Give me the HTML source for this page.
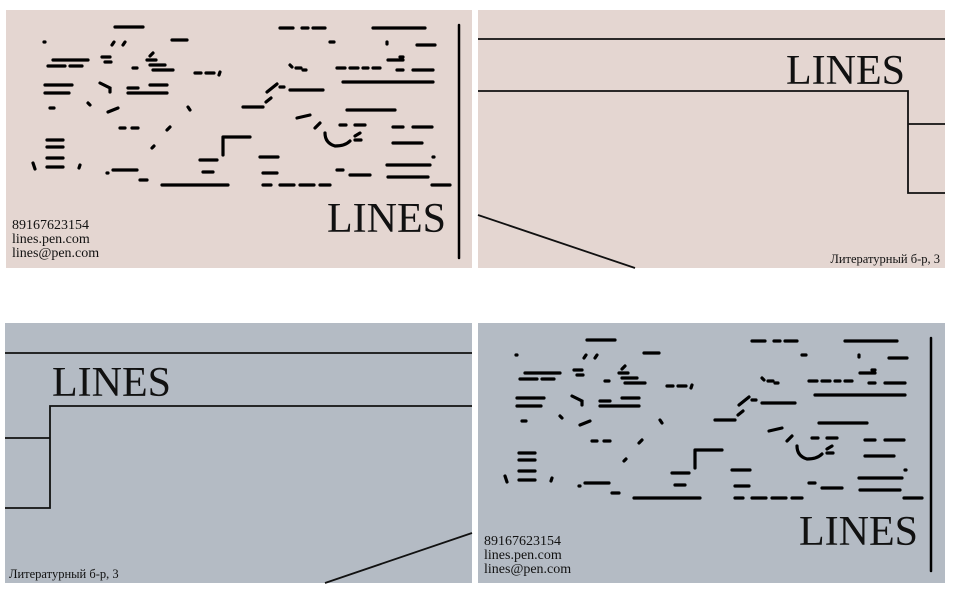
<!DOCTYPE html>
<html><head><meta charset="utf-8"><style>
html,body{margin:0;padding:0;background:#fff;width:954px;height:592px;overflow:hidden}
svg{display:block}
text{font-family:"Liberation Serif",serif;fill:#111}
</style></head><body>
<svg width="954" height="592" viewBox="0 0 954 592" xmlns="http://www.w3.org/2000/svg">
<rect x="6" y="10" width="466" height="258" fill="#e4d6d1"/>
<rect x="478" y="10" width="467" height="258" fill="#e4d6d1"/>
<rect x="5" y="323" width="467" height="260" fill="#b4bbc4"/>
<rect x="478" y="323" width="467" height="260" fill="#b4bbc4"/>

<defs>
<g id="dash" stroke="#000" stroke-width="3.2" stroke-linecap="round" fill="none">
<path d="M115 27h28 M280 28h13 M302 28h6 M313 28h12 M373 28h52 M44 42h1 M172 40h15 M112 45l2-3 M123 45l2-3 M330 42h4 M387 42v2 M417 45h18
M53 60h35 M48 66h17 M70 66h12 M102 57h8 M105 62h6 M147 60h9 M150 56l3-3 M150 65h15 M133 68h4 M153 70h20 M195 73h6 M206 73h8 M219 75l1-3
M290 65l2 2 M296 68h5 M303 70h3 M337 68h8 M350 68h8 M363 68h5 M373 68h7 M388 60h15 M397 70h6 M413 70h20 M400 57h3
M45 85h27 M45 93h24 M100 83l10 5v4 M128 93h39 M150 85h17 M128 88h10 M290 90h33 M267 92l10 -8 M280 87h4
M343 82h90 M50 108h4 M88 103l2 2 M108 112l10 -4 M188 107l2 3 M243 107h20 M266 102l5 -4 M297 118l13 -3
M347 110h48 M315 128l5 -5 M325 133q0 10 10 13q10 0 15 -5 M340 125h6 M355 125h10 M360 133l-5 3 M355 140h6 M393 127h10 M413 127h19
M120 128h5 M132 128h6 M170 127l-3 3 M223 137h27 M223 137v18 M47 140h16 M47 147h16 M47 158h16 M47 167h16 M393 143h29
M33 163l2 6 M80 165l-1 3 M107 173h1 M113 170h24 M152 148l2-2 M260 157h18 M200 160h17 M203 172h10 M263 173h14
M337 170h6 M350 175h20 M387 165h43 M388 177h40 M433 157h1 M140 180h7 M162 185h66 M263 185h8 M280 185h14 M300 185h14 M320 185h10 M432 185h18"/>
<path d="M459 25V258" stroke="#000" stroke-width="2.5"/>
</g>
</defs>
<use href="#dash"/>
<use href="#dash" transform="translate(472,313)"/>

<text x="446" y="232" font-size="42" text-anchor="end">LINES</text>
<text x="12" y="229" font-size="14">89167623154</text>
<text x="12" y="243" font-size="14">lines.pen.com</text>
<text x="12" y="257" font-size="14">lines@pen.com</text>

<text x="918" y="545" font-size="42" text-anchor="end">LINES</text>
<text x="484" y="545" font-size="14">89167623154</text>
<text x="484" y="559" font-size="14">lines.pen.com</text>
<text x="484" y="573" font-size="14">lines@pen.com</text>

<g stroke="#111" stroke-width="1.8" fill="none">
<path d="M478 39H945 M478 91H908V193H945 M908 124H945 M478 215L635 268"/>
<path d="M5 353H472 M472 406H50V508H5 M5 438H50 M325 583L472 533"/>
</g>
<text x="905" y="84" font-size="42" text-anchor="end">LINES</text>
<text x="940" y="263" font-size="12.5" text-anchor="end">Литературный б-р, 3</text>
<text x="52" y="396" font-size="42">LINES</text>
<text x="9" y="578" font-size="12.5">Литературный б-р, 3</text>
</svg>
</body></html>
